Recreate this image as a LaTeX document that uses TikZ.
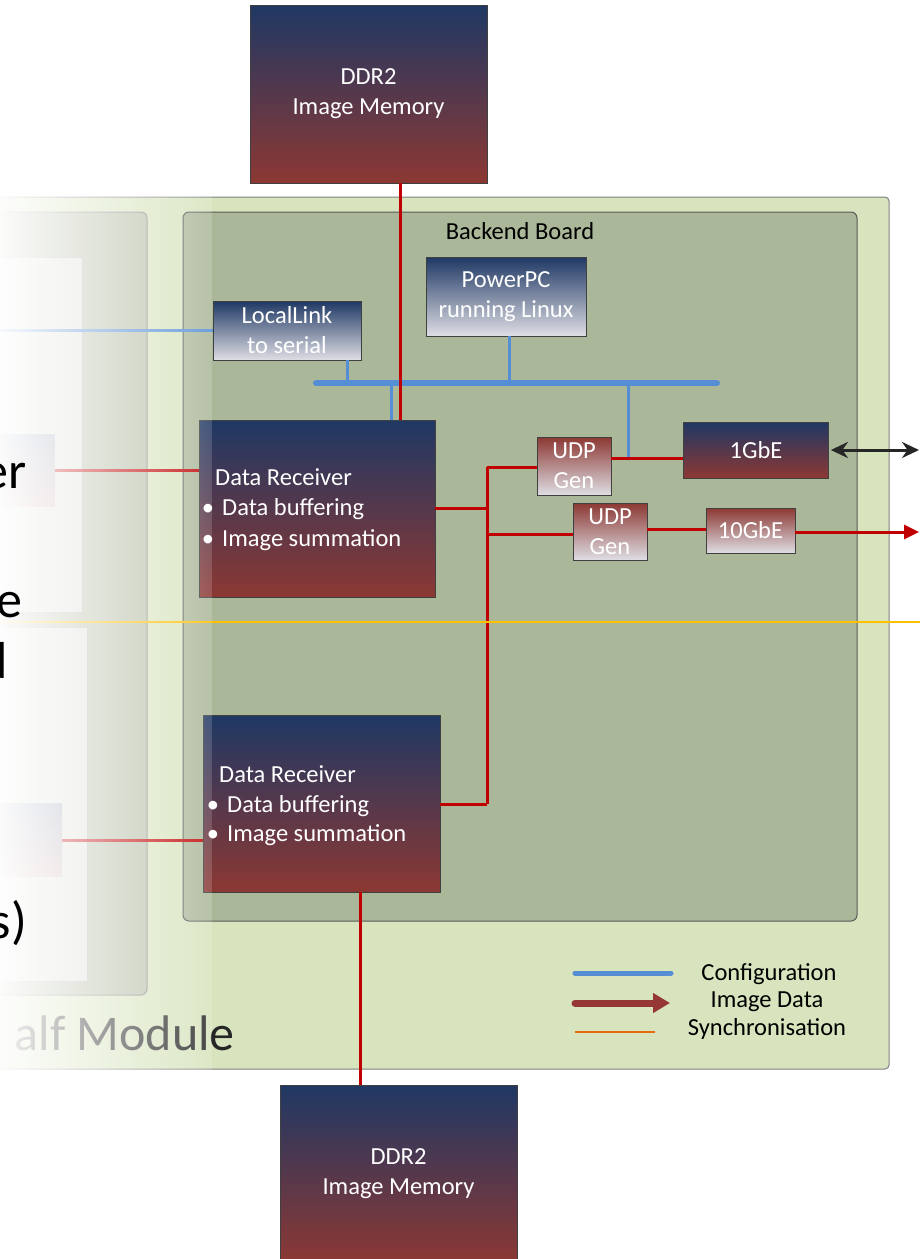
\documentclass[tikz,border=0pt]{standalone}
\usepackage{fontspec}
\setmainfont{Carlito}
\usetikzlibrary{fadings,arrows.meta}
\definecolor{navy}{HTML}{1F3864}
\definecolor{brick}{HTML}{8C3833}
\definecolor{lgray}{HTML}{DEDEE4}
\definecolor{outerg}{HTML}{D7E4BD}
\definecolor{boardg}{HTML}{ABB799}
\definecolor{panelg}{HTML}{B8BFA8}
\definecolor{cfgblue}{HTML}{558ED5}
\definecolor{datared}{HTML}{C00000}
\definecolor{syncy}{HTML}{FFC000}
\definecolor{legred}{HTML}{953735}
\definecolor{legorange}{HTML}{E46C0A}
\tikzfading[name=whitefade, left color=transparent!0, right color=transparent!85]
\begin{document}
\begin{tikzpicture}[x=1pt,y=-1pt,
  boxline/.style={draw=black!75, line width=0.8pt, inner sep=0pt, align=center,
     text=white, font=\fontsize{24.5}{30}\selectfont},
  nrbox/.style={boxline, top color=navy, bottom color=brick},
  ngbox/.style={boxline, top color=navy, bottom color=lgray},
  rgbox/.style={boxline, top color=brick, bottom color=lgray},
  wtxt/.style={text=white, inner sep=0pt, font=\fontsize{24.5}{30}\selectfont},
  btxt/.style={text=black, inner sep=0pt, font=\fontsize{24.5}{30}\selectfont},
  bigtxt/.style={text=black, inner sep=0pt, font=\fontsize{52}{60}\selectfont},
  redline/.style={datared, line width=3pt},
  blueline/.style={cfgblue, line width=3pt},
  busline/.style={cfgblue, line width=6pt, line cap=round},
]
\useasboundingbox (0,0) rectangle (919,1259);
\fill[white] (0,0) rectangle (919,1259);

% outer half module
\draw[fill=outerg, draw=black!50, line width=1pt, rounded corners=4pt] (-10,197) rectangle (889,1069);
% left panel
\draw[fill=panelg, draw=black!45, line width=1pt, rounded corners=6pt] (-10,212) rectangle (147,995);
\draw[fill=white!55!panelg, draw=black!30, line width=0.8pt] (-5,257) rectangle (82,612);
\draw[fill=white!55!panelg, draw=black!30, line width=0.8pt] (-5,627) rectangle (87,981);
\node[draw=none, top color=navy!45, bottom color=brick!35, minimum width=55pt, minimum height=72pt, inner sep=0pt] (sb1) at (27,470) {};
\node[draw=none, top color=navy!45, bottom color=brick!35, minimum width=62pt, minimum height=73pt, inner sep=0pt] (sb2) at (31,840) {};
\node[text=black!85, inner sep=0pt, font=\fontsize{50}{60}\selectfont, anchor=base east] (hm) at (235,1050) {alf Module};

% backend board
\draw[fill=boardg, draw=black!65, line width=1pt, rounded corners=6pt] (183,212) rectangle (857,921);
\node[btxt] (bb) at (520,231) {Backend Board};

% boxes
\node[nrbox, minimum width=237pt, minimum height=178pt] (ddrT) at (368.5,94) {DDR2\\Image Memory};
\node[ngbox, minimum width=160pt, minimum height=79pt] (ppc) at (506,296.5) {PowerPC\\running Linux};
\node[ngbox, minimum width=148pt, minimum height=59pt] (ll) at (287,330.5) {LocalLink\\to serial};
\node[nrbox, minimum width=236pt, minimum height=177pt] (dr1) at (317,508.5) {};
\node[nrbox, minimum width=237pt, minimum height=177pt] (dr2) at (321.5,803.5) {};
\node[rgbox, minimum width=74pt, minimum height=58pt] (udp1) at (574,466) {UDP\\Gen};
\node[rgbox, minimum width=74pt, minimum height=57pt] (udp2) at (610,531.5) {UDP\\Gen};
\node[nrbox, minimum width=145pt, minimum height=56pt] (ge1) at (756,450) {1GbE};
\node[rgbox, minimum width=89pt, minimum height=45pt] (ge10) at (750.5,530.5) {10GbE};
\node[nrbox, minimum width=237pt, minimum height=178pt] (ddrB) at (398.5,1174) {DDR2\\Image Memory};

% data receiver texts
\node[wtxt, anchor=base west] (d1a) at (215,485) {Data Receiver};
\node[wtxt, anchor=base] (d1b) at (208,515) {\textbullet};
\node[wtxt, anchor=base west] (d1c) at (222,515) {Data buffering};
\node[wtxt, anchor=base] (d1d) at (208,546) {\textbullet};
\node[wtxt, anchor=base west] (d1e) at (222,546) {Image summation};
\node[wtxt, anchor=base west] (d2a) at (219,782) {Data Receiver};
\node[wtxt, anchor=base] (d2b) at (213,812) {\textbullet};
\node[wtxt, anchor=base west] (d2c) at (227,812) {Data buffering};
\node[wtxt, anchor=base] (d2d) at (213,841) {\textbullet};
\node[wtxt, anchor=base west] (d2e) at (227,841) {Image summation};

% configuration bus
\coordinate (busL) at (316,383);
\coordinate (busR) at (717,383);
\coordinate (j1) at (628,458);
\draw[blueline] (ll.south -| 347,0) -- (busL -| 347,0);
\draw[blueline] (ppc.south -| 509,0) -- (busL -| 509,0);
\draw[blueline] (busL -| 391,0) -- (dr1.north -| 391,0);
\draw[blueline] (busL -| j1) -- (j1);
\draw[busline] (busL) -- (busR);
\draw[blueline] (-5,330) -- (ll.west |- 0,330);

% image data
\coordinate (trT) at (487,467);
\coordinate (trB) at (487,804);
\draw[redline] (ddrT.south -| 400,0) -- (dr1.north -| 400,0);
\draw[redline] (dr1.east |- 0,508) -- (trT |- 0,508);
\draw[redline] (dr2.east |- trB) -- (trB);
\draw[redline] (trT) -- (trB);
\draw[redline] (trT) -- (udp1.west |- trT);
\draw[redline] (trT |- 0,534) -- (udp2.west |- 0,534);
\draw[redline] (udp1.east |- 0,458) -- (ge1.west |- 0,458);
\draw[redline] (udp2.east |- 0,529) -- (ge10.west |- 0,529);
\draw[redline, -{Triangle[length=15pt,width=14pt]}] (ge10.east |- 0,532) -- (919,532);
\draw[black!85, line width=3pt, {Stealth[length=17pt,width=16pt]}-{Stealth[length=17pt,width=16pt]}] (ge1.east |- 0,450) ++(2,0) -- (919,450);
\draw[redline] (dr2.south -| 360,0) -- (ddrB.north -| 360,0);
\draw[redline] (sb1.east |- 0,470) -- (dr1.west |- 0,470);
\draw[redline] (sb2.east |- 0,840) -- (dr2.west |- 0,840);

% synchronisation
\draw[syncy, line width=2.5pt] (-5,622) -- (925,622);

% white fade on the left
\fill[white, path fading=whitefade] (-12,195) rectangle (212,1072);

% left texts
\node[bigtxt, anchor=base east] (te1) at (27,488) {er};
\node[bigtxt, anchor=base east] (te2) at (23,617) {e};
\node[bigtxt, anchor=base east] (te3) at (8,678) {d};
\node[bigtxt, anchor=base east] (te4) at (27,938) {s)};

% legend
\draw[cfgblue, line width=5pt, line cap=round] (575,973) -- (671,973);
\draw[legred, line width=7pt, line cap=round, -{Triangle[length=17pt,width=19pt]}] (575,1003) -- (670,1003);
\draw[legorange, line width=2.5pt] (575,1032) -- (655,1032);
\node[btxt] (lg1) at (769,974) {Configuration};
\node[btxt] (lg2) at (767,1002) {Image Data};
\node[btxt] (lg3) at (767,1029) {Synchronisation};
\end{tikzpicture}
\end{document}
